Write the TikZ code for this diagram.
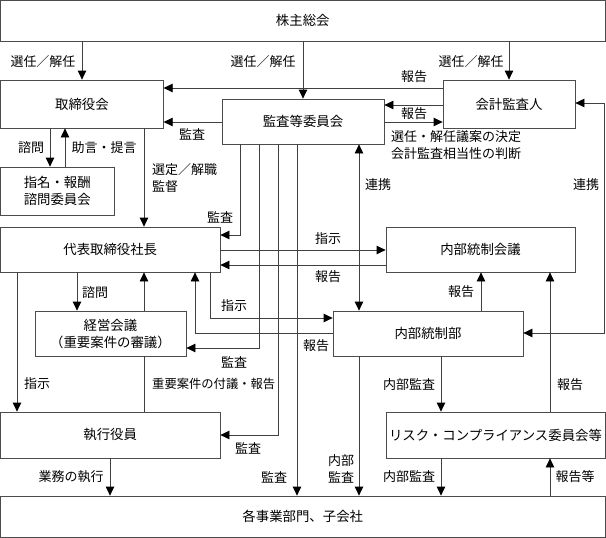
\documentclass[tikz,border=0pt]{standalone}
\usepackage{fontspec}
\setmainfont{Noto Sans CJK JP}
\usetikzlibrary{arrows.meta}
\begin{document}
\begin{tikzpicture}[x=1pt,y=-1pt,
  box/.style={draw=black!70, line width=0.8pt, inner sep=0pt, align=center, font=\fontsize{13.4}{17}\selectfont},
  tipk/.tip={Triangle[length=9pt,width=8.5pt,color=black]},
  ln/.style={draw=black!75, line width=0.8pt},
  arr/.style={ln, -tipk},
  arrb/.style={ln, tipk-tipk},
  lbl/.style={font=\fontsize{13}{17}\selectfont, inner sep=0pt, align=left}]
\useasboundingbox (0,0) rectangle (606,538);

% boxes
\node[box, minimum width=604.5pt, minimum height=40.5pt] (shm) at (302.75,20.75) {株主総会};
\node[box, minimum width=162.5pt, minimum height=48pt] (tor) at (82,104) {取締役会};
\node[box, minimum width=162pt, minimum height=45pt] (kan) at (303,121.5) {監査等委員会};
\node[box, minimum width=132pt, minimum height=48pt] (kai) at (509,104) {会計監査人};
\node[box, minimum width=113.5pt, minimum height=48pt] (shi) at (57.25,191) {指名・報酬\\諮問委員会};
\node[box, minimum width=219.5pt, minimum height=45pt] (dai) at (110.25,249.5) {代表取締役社長};
\node[box, minimum width=189pt, minimum height=45pt] (nkk) at (480.5,249.5) {内部統制会議};
\node[box, minimum width=151pt, minimum height=45pt] (kei) at (110.5,333.5) {経営会議\\（重要案件の審議）};
\node[box, minimum width=190pt, minimum height=45pt] (nbu) at (428,333.5) {内部統制部};
\node[box, minimum width=219.5pt, minimum height=46pt] (shk) at (110.25,435) {執行役員};
\node[box, minimum width=219pt, minimum height=46pt] (ris) at (495.5,435) {リスク・コンプライアンス委員会等};
\node[box, minimum width=604.5pt, minimum height=41pt] (kak) at (302.75,516.5) {各事業部門、子会社};

% shareholders
\draw[arr] (shm.south -| tor.north) -- (tor.north);
\draw[arr] (shm.south -| kan.north) -- (kan.north);
\draw[arr] (shm.south -| kai.north) -- (kai.north);
\node[lbl] (l1) at (43,62) {選任／解任};
\node[lbl] (l2) at (263,62) {選任／解任};
\node[lbl] (l3) at (471,62) {選任／解任};

% auditor / audit committee / board
\draw[arr] (kai.west |- 0,88) -- (tor.east |- 0,88);
\draw[arr] (kai.west |- 0,105) -- (kan.east |- 0,105);
\draw[arr] (kan.east |- 0,122) -- (kai.west |- 0,122);
\draw[arr] (kan.west |- 0,122) -- (tor.east |- 0,122);
\node[lbl] (l4) at (414,77) {報告};
\node[lbl] (l5) at (414,114) {報告};
\node[lbl, anchor=west] (l6) at (391,145.5) {選任・解任議案の決定\\会計監査相当性の判断};
\node[lbl] (l7) at (192,134) {監査};

% board and committees
\draw[arr] (tor.south -| 50,0) -- (shi.north -| 50,0);
\draw[arr] (shi.north -| 65,0) -- (tor.south -| 65,0);
\node[lbl] (l8) at (31,148) {諮問};
\node[lbl] (l9) at (104,148) {助言・提言};
\draw[arr] (tor.south -| 144,0) -- (dai.north -| 144,0);
\node[lbl, anchor=west] (l10) at (152,178) {選定／解職\\監督};

% audit committee audit lines
\draw[arr] (kan.south -| 240,0) |- (dai.east |- 0,235);
\node[lbl] (l11) at (220,217) {監査};
\draw[arr] (kan.south -| 259,0) |- (kei.east |- 0,348);
\node[lbl] (l12) at (234,362) {監査};
\draw[arr] (kan.south -| 278,0) |- (shk.east |- 0,435);
\node[lbl] (l13) at (248,448) {監査};
\draw[arr] (kan.south -| 297,0) -- (kak.north -| 297,0);
\node[lbl] (l14) at (274,477) {監査};

% cooperation
\draw[arrb] (kan.south -| 359,0) -- (nbu.north -| 359,0);
\node[lbl] (l15) at (378,185) {連携};
\coordinate (c1) at (604,103);
\coordinate (c2) at (604,333);
\draw[arrb] (kai.east |- c1) -- (c1) -- (c2) -- (nbu.east |- c2);
\node[lbl] (l16) at (586,185) {連携};

% president and internal control
\draw[arr] (dai.east |- 0,250) -- (nkk.west |- 0,250);
\node[lbl] (l17) at (328,239) {指示};
\draw[arr] (nkk.west |- 0,265) -- (dai.east |- 0,265);
\node[lbl] (l18) at (328,277) {報告};
\draw[arr] (dai.south -| 210,0) |- (nbu.west |- 0,318);
\node[lbl] (l19) at (234,306) {指示};
\draw[arr] (nbu.west |- 0,333) -| (dai.south -| 195,0);
\node[lbl] (l20) at (316,346) {報告};
\draw[arr] (nbu.north -| 481,0) -- (nkk.south -| 481,0);
\node[lbl] (l21) at (461,292) {報告};

% president, management meeting, officers
\draw[arr] (dai.south -| 77,0) -- (kei.north -| 77,0);
\node[lbl] (l22) at (95,293) {諮問};
\draw[ln] (shk.north -| 144,0) -- (kei.south -| 144,0);
\draw[arr] (kei.north -| 144,0) -- (dai.south -| 144,0);
\node[lbl, anchor=west, font=\fontsize{12.3}{17}\selectfont] (l23) at (152,384) {重要案件の付議・報告};
\draw[arr] (dai.south -| 17,0) -- (shk.north -| 17,0);
\node[lbl] (l24) at (37,384) {指示};
\draw[arr] (shk.south -| 110,0) -- (kak.north -| 110,0);
\node[lbl] (l25) at (71,477) {業務の執行};

% internal audit
\draw[arr] (nbu.south -| 359,0) -- (kak.north -| 359,0);
\node[lbl, align=center] (l26) at (341,468.5) {内部\\監査};
\draw[arr] (nbu.south -| 441,0) -- (ris.north -| 441,0);
\node[lbl] (l27) at (409,385) {内部監査};
\draw[arr] (ris.south -| 441,0) -- (kak.north -| 441,0);
\node[lbl] (l28) at (409,477) {内部監査};
\draw[arr] (kak.north -| 550,0) -- (ris.south -| 550,0);
\node[lbl] (l29) at (575,477) {報告等};
\draw[arr] (ris.north -| 550,0) -- (nkk.south -| 550,0);
\node[lbl] (l30) at (570,385) {報告};
\end{tikzpicture}
\end{document}
